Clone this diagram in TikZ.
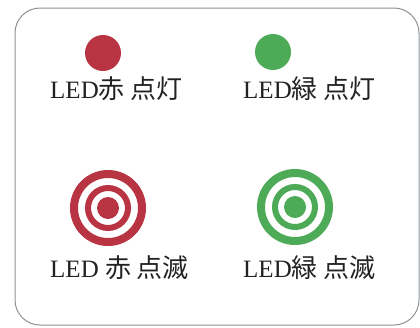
\documentclass[tikz,border=0pt]{standalone}
\usepackage{fontspec}
\setmainfont{Liberation Serif}
\newfontfamily\jpfont{Noto Sans CJK JP}
\definecolor{ledred}{HTML}{B93443}
\definecolor{ledgreen}{HTML}{4DAA57}
\definecolor{framegray}{HTML}{8E9296}
\definecolor{txt}{HTML}{222222}
\newcommand{\jp}[1]{{\jpfont\fontsize{26}{30}\selectfont #1}}
\begin{document}
\begin{tikzpicture}[x=1pt,y=-1pt,
  dot/.style={circle,inner sep=0pt,minimum size=#1},
  lbl/.style={anchor=base west,inner sep=0pt,text=txt,font=\fontsize{25}{30}\selectfont},
]
\useasboundingbox (0,0) rectangle (420,327);
\draw[framegray,line width=1pt,rounded corners=25pt] (15,8) rectangle (419,325);
% steady LEDs
\node[dot=36pt,fill=ledred] (redon) at (103,53) {};
\node[dot=36pt,fill=ledgreen] (greenon) at (273,52) {};
% blinking LEDs
\node[dot=22pt,fill=ledred] (redblink) at (108,208) {};
\draw[ledred,line width=8pt] (redblink.center) circle[radius=34pt];
\draw[ledred,line width=6pt] (redblink.center) circle[radius=20pt];
\node[dot=22pt,fill=ledgreen] (greenblink) at (295,207) {};
\draw[ledgreen,line width=8pt] (greenblink.center) circle[radius=34pt];
\draw[ledgreen,line width=6pt] (greenblink.center) circle[radius=20pt];
% labels
\node[lbl] (lredon) at (50,98) {LED\jp{赤 点灯}};
\node[lbl] (lgreenon) at (243,98) {LED\jp{緑 点灯}};
\node[lbl] (lredblink) at (50,277) {LED \jp{赤 点滅}};
\node[lbl] (lgreenblink) at (243,277) {LED\jp{緑 点滅}};
\end{tikzpicture}
\end{document}
